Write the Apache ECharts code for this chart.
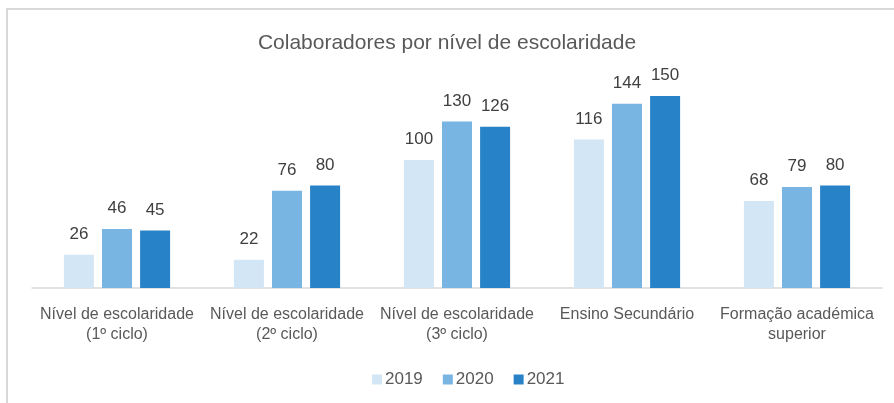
<!DOCTYPE html>
<html><head><meta charset="utf-8">
<script src="https://cdn.jsdelivr.net/npm/echarts@6/dist/echarts.min.js"></script>
<style>
html,body{margin:0;padding:0;background:#fff;}
#frame{position:absolute;left:6px;top:8px;width:888px;height:395px;border-top:2px solid #d9d9d9;border-left:2px solid #d9d9d9;box-sizing:border-box;}
#c{position:absolute;left:0;top:0;width:894px;height:403px;}
</style></head>
<body>
<div id="frame"></div>
<div id="c"></div>
<script>
const categories = ["Nível de escolaridade\n(1º ciclo)", "Nível de escolaridade\n(2º ciclo)", "Nível de escolaridade\n(3º ciclo)", "Ensino Secundário", "Formação académica\nsuperior"];
const seriesNames = ["2019", "2020", "2021"];
const values2019 = [26, 22, 100, 116, 68];
const values2020 = [46, 76, 130, 144, 79];
const values2021 = [45, 80, 126, 150, 80];

const FONT = "'Liberation Sans Narrow', 'Arial Narrow', 'Liberation Sans', Arial, sans-serif";
const colors = ["#D2E6F5", "#78B5E3", "#2882C8"];
const data = [values2019, values2020, values2021];

const chart = echarts.init(document.getElementById('c'), null, {renderer: 'canvas'});
chart.setOption({
  animation: false,
  backgroundColor: 'transparent',
  title: {
    text: 'Colaboradores por nível de escolaridade',
    left: 'center', top: 28,
    textStyle: {fontFamily: FONT, fontSize: 21, fontWeight: 'normal', color: '#595959'}
  },
  legend: {
    data: seriesNames,
    top: 366, left: 367,
    itemWidth: 10, itemHeight: 10, itemGap: 20,
    icon: 'rect',
    textStyle: {fontFamily: FONT, fontSize: 17, color: '#595959', padding: [0,0,0,-2]}
  },
  grid: {left: 32, right: 12, top: 57.6, bottom: 115, containLabel: false},
  xAxis: {
    type: 'category', data: categories,
    axisLine: {lineStyle: {color: '#d9d9d9', width: 1.5}},
    axisTick: {show: false},
    axisLabel: {fontFamily: FONT, fontSize: 16, color: '#595959', margin: 17, lineHeight: 20, interval: 0}
  },
  yAxis: {type: 'value', min: 0, max: 180, show: false, splitLine: {show: false}},
  series: seriesNames.map((n, i) => ({
    name: n, type: 'bar', data: data[i],
    barWidth: 30, barGap: '27%',
    itemStyle: {color: colors[i]},
    label: {show: true, position: 'top', distance: 12, fontFamily: FONT, fontSize: 17, color: '#404040'}
  }))
});
</script>
</body></html>
